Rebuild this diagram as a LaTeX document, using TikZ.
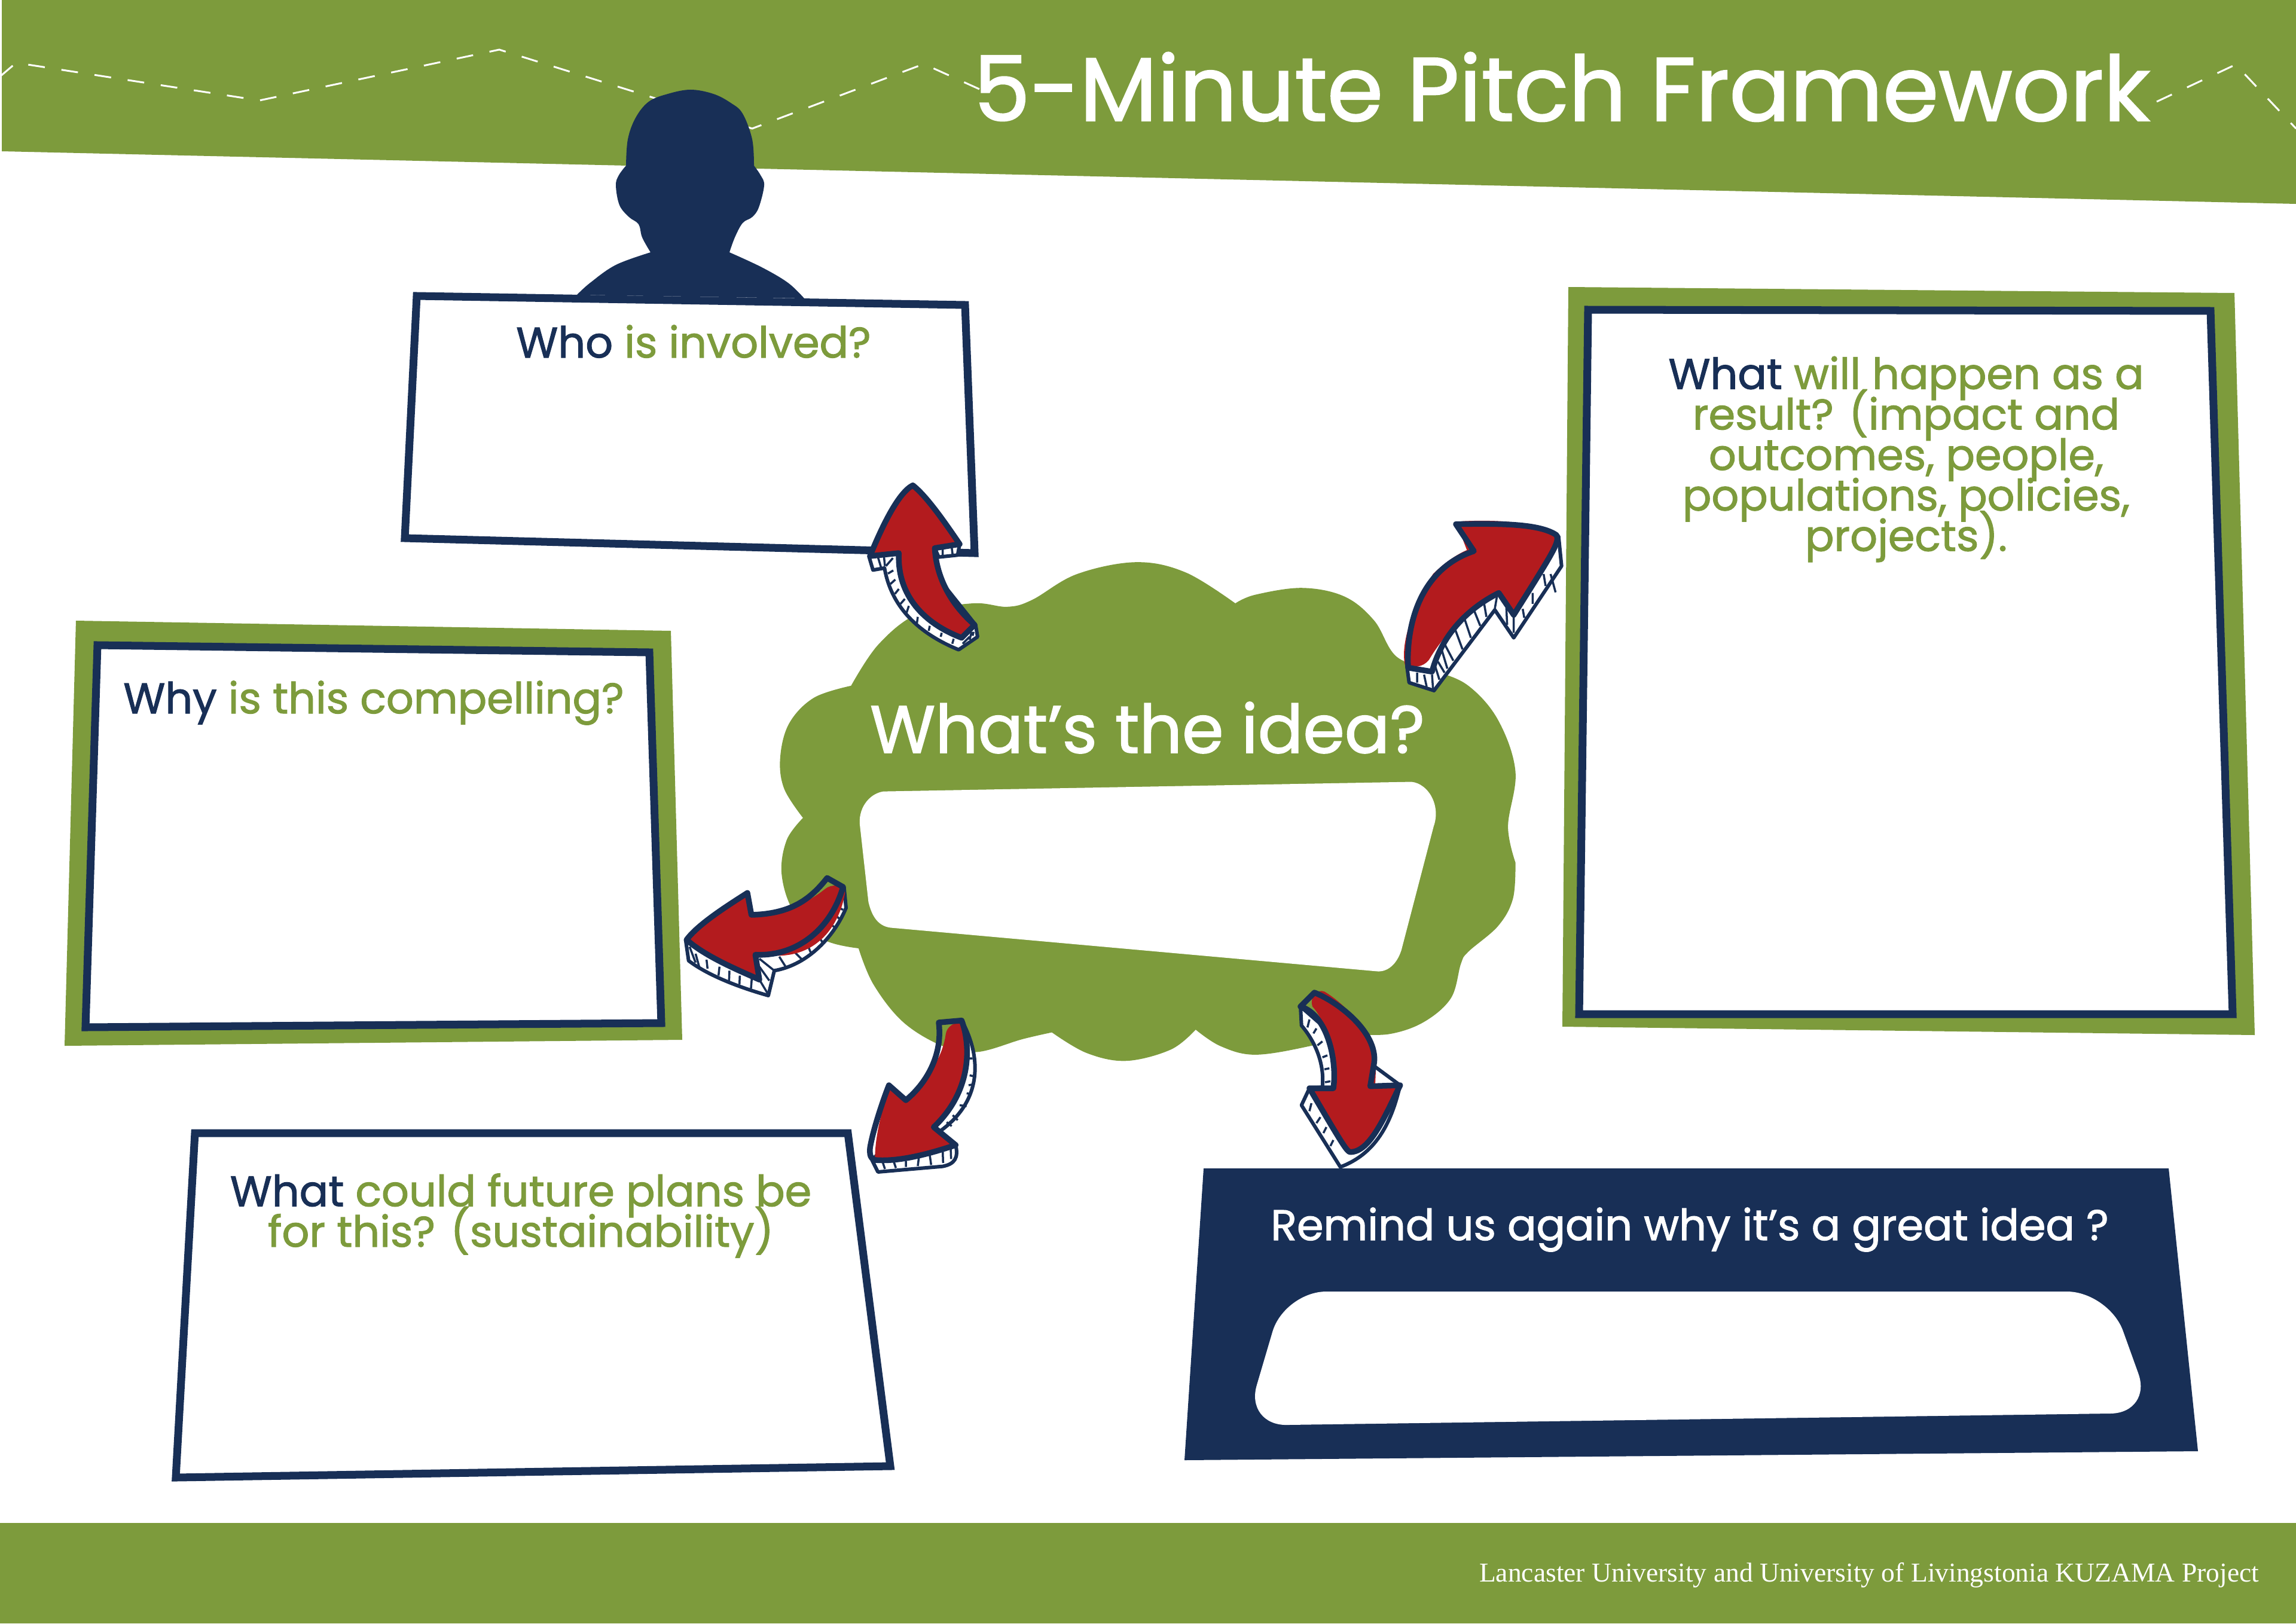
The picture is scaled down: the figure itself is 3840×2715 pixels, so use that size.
\documentclass[tikz,border=0pt]{standalone}
\usepackage{fontspec}
\setmainfont[FakeBold=1.5]{Poppins}
\newfontfamily\footfont{Liberation Serif}
\definecolor{leaf}{HTML}{7D9B3C}
\definecolor{navyink}{HTML}{182F56}
\definecolor{arrowred}{HTML}{B31B1E}
\newcommand{\tightlines}{\lineskiplimit=-100pt\relax}
\begin{document}
\begin{tikzpicture}[
		x=0.01cm, y=-0.01cm,
		askbox/.style={fill=white, draw=navyink, line width=0.13cm, line join=miter},
		frame/.style={fill=leaf},
		asktext/.style={font=\fontsize{20.4}{19.26}\selectfont\tightlines, align=center, inner sep=0pt, text=leaf},
		front/.style={fill=arrowred},
		rim/.style={draw=navyink, line width=0.095cm, line join=round},
		depth/.style={fill=white, draw=navyink, line width=0.06cm, line join=round},
		hatch/.style={draw=navyink, line width=0.035cm}
	]
		\fill[white] (0,0) rectangle (3840,2715);
		\useasboundingbox (0,0) rectangle (3840,2715);
		% bands
		\fill[leaf] (3,0) -- (3840,0) -- (3840,341) -- (3,253) -- cycle;
		\fill[leaf] (0,2547) rectangle (3840,2715);
		\draw[white, line width=0.03cm, dash pattern=on 0.28cm off 0.28cm] (0,128) -- (27,105) -- (434,168) -- (835,83) -- (1258,215) -- (1545,107) -- (1640,150);
		\draw[white, line width=0.03cm, dash pattern=on 0.28cm off 0.28cm] (3607,170) -- (3739,108) -- (3840,215);
		% person
		\fill[navyink] plot[smooth, tension=0.6] coordinates {(965,493) (987,473) (1030,443) (1088,422)}
			-- plot[smooth, tension=0.6] coordinates {(1088,422) (1074,397) (1068,375) (1052,363) (1036,343) (1030,310) (1035,293) (1047,277)}
			-- plot[smooth, tension=0.6] coordinates {(1047,277) (1050,233) (1063,197) (1085,170) (1117,157) (1155,150) (1193,157) (1222,172) (1242,190) (1258,233) (1261,277)}
			-- plot[smooth, tension=0.6] coordinates {(1261,277) (1272,293) (1278,310) (1269,347) (1258,363) (1242,373) (1229,397) (1220,422)}
			-- plot[smooth, tension=0.6] coordinates {(1220,422) (1274,447) (1318,473) (1345,499)} -- cycle;
		% question boxes
		\draw[askbox] (697,495) -- (1614,510) -- (1630,925) -- (677,900) -- cycle;
		\fill[frame] (127,1038) -- (1122,1055) -- (1141,1739) -- (108,1749) -- cycle;
		\draw[askbox] (163,1079) -- (1086,1091) -- (1106,1711) -- (143,1718) -- cycle;
		\fill[frame] (2623,480) -- (3737,490) -- (3771,1731) -- (2613,1717) -- cycle;
		\draw[askbox] (2656,518) -- (3697,520) -- (3734,1696) -- (2641,1696) -- cycle;
		\draw[askbox] (326,1895) -- (1418,1895) -- (1489,2452) -- (294,2471) -- cycle;
		\fill[navyink] (2013,1954) -- (3627,1954) -- (3676,2427) -- (1981,2442) -- cycle;
		\fill[white, rounded corners=0.7cm] (2148,2160) -- (3527,2160) -- (3600,2363) -- (2082,2384) -- cycle;
		% cloud
		\begin{scope}[shift={(1270,900)}, xscale=0.8292, yscale=0.574]
			\fill[leaf] plot[smooth, tension=0.6] coordinates {(960,190) (1000,165) (1095,145) (1180,170) (1240,240) (1285,345) (1360,385) (1430,430) (1490,530) (1525,680) (1510,840) (1525,945)}
				-- plot[smooth, tension=0.6] coordinates {(1525,945) (1520,1050) (1490,1130) (1430,1205) (1415,1240) (1395,1340) (1340,1410) (1270,1445) (1195,1445)}
				-- plot[smooth, tension=0.6] coordinates {(1195,1445) (1110,1480) (1000,1505) (930,1480) (880,1432)}
				-- plot[smooth, tension=0.6] coordinates {(880,1432) (830,1490) (740,1523) (660,1500) (590,1440)}
				-- plot[smooth, tension=0.6] coordinates {(590,1440) (530,1460) (440,1497) (370,1480) (290,1410) (230,1300) (200,1195)}
				-- plot[smooth, tension=0.6] coordinates {(200,1195) (130,1170) (70,1090) (45,980) (55,880) (88,815)}
				-- plot[smooth, tension=0.6] coordinates {(88,815) (50,730) (42,640) (60,540) (110,465) (185,430)}
				-- plot[smooth, tension=0.6] coordinates {(185,430) (240,310) (320,220) (430,190) (500,200) (550,180) (640,105) (760,70) (860,100) (960,190)} -- cycle;
			\fill[white] (250,738) -- (1315,710) .. controls (1350,715) and (1375,780) .. (1360,840)
				-- (1295,1200) .. controls (1285,1245) and (1265,1265) .. (1245,1262)
				-- (265,1135) .. controls (235,1130) and (225,1090) .. (220,1060)
				-- (203,840) .. controls (198,790) and (220,745) .. (250,738) -- cycle;
		\end{scope}
		% arrow to who
		\begin{scope}[shift={(1400,780)}, scale=0.3333]
			\draw[depth] (160,452) -- (180,520) -- (238,510) .. controls (260,640) and (340,810) .. (610,920) -- (705,855) -- (695,795) -- (380,400) -- cycle;
			\draw[depth] (490,410) -- (510,455) -- (605,445) -- (615,390) -- cycle;
			\draw[hatch] (205,455) -- (220,505) (235,450) -- (240,500) (280,460) -- (245,500) (255,538) -- (282,522) (268,590) -- (292,568) (290,640) -- (310,615) (318,690) -- (340,665) (345,745) -- (360,700) (400,790) -- (405,755) (460,825) -- (465,800) (520,855) -- (525,835) (578,890) -- (585,865) (630,890) -- (665,855) (665,870) -- (675,830) (680,850) -- (685,830) (530,410) -- (530,450) (575,405) -- (580,445);
			\path[front, rim] (380,95) .. controls (450,150) and (540,280) .. (615,390) -- (490,410) .. controls (500,570) and (580,700) .. (690,795) -- (625,860) .. controls (440,790) and (300,650) .. (310,435) -- (165,450) .. controls (230,290) and (310,130) .. (380,95) -- cycle;
		\end{scope}
		% arrow to result
		\begin{scope}[shift={(2300,820)}, scale=0.3333]
			\draw[depth] (160,890) -- (170,965) -- (295,1005) -- (600,600) -- (695,740) -- (935,380) -- (920,230) -- (700,400) -- (300,700) -- cycle;
			\draw[hatch] (210,915) -- (210,965) (245,925) -- (258,985) (285,925) -- (290,995) (300,880) -- (322,950) (315,860) -- (348,915) (335,805) -- (362,895) (350,775) -- (392,855) (400,695) -- (438,798) (445,635) -- (480,740) (495,600) -- (527,680) (545,560) -- (558,635) (612,525) -- (600,595) (658,590) -- (662,675) (695,635) -- (695,715) (740,595) -- (748,640) (790,515) -- (790,570) (845,420) -- (855,480) (880,420) -- (905,512);
			\fill[white] (165,890) -- (285,910) .. controls (335,780) and (420,640) .. (620,515) -- (800,250) -- (300,400) -- cycle;
			\fill[front] (150,880) .. controls (125,780) and (180,600) .. (290,420) .. controls (340,370) and (410,320) .. (460,300) -- (410,170) -- (440,155) .. controls (640,145) and (830,165) .. (915,225) -- (920,260) -- (700,620) -- (625,520) .. controls (480,590) and (360,700) .. (270,850) .. controls (240,890) and (190,890) .. (150,880) -- cycle;
			\draw[rim] (165,890) .. controls (155,700) and (210,400) .. (495,305) -- (405,170) .. controls (650,165) and (830,170) .. (910,225) .. controls (925,260) and (900,300) .. (695,625) -- (620,515) .. controls (450,600) and (330,740) .. (285,910) -- cycle;
		\end{scope}
		% arrow to why
		\begin{scope}[shift={(1120,1440)}, scale=0.3333]
			\draw[depth] (80,395) -- (95,500) .. controls (200,580) and (370,640) .. (495,675) -- (525,550) .. controls (700,520) and (830,370) .. (885,235) -- (875,130) -- (700,320) -- (400,400) -- cycle;
			\draw[hatch] (100,430) -- (130,510) (130,465) -- (148,530) (185,495) -- (190,540) (250,530) -- (245,575) (300,550) -- (298,600) (352,575) -- (350,620) (412,590) -- (408,640) (450,595) -- (495,670) (450,530) -- (500,600) (450,490) -- (525,550) (550,480) -- (585,535) (620,450) -- (665,495) (690,415) -- (708,460) (745,375) -- (765,405) (800,310) -- (830,335) (830,270) -- (852,290) (852,235) -- (870,245);
			\fill[front] (100,400) .. controls (150,300) and (280,230) .. (385,165) -- (410,270) .. controls (560,265) and (680,220) .. (780,140) .. controls (810,115) and (870,115) .. (880,160) .. controls (850,330) and (740,470) .. (550,475) -- (430,470) -- (450,595) .. controls (350,550) and (130,480) .. (100,400) -- cycle;
			\draw[rim] (790,85) .. controls (700,200) and (600,265) .. (410,270) -- (390,160) .. controls (280,230) and (140,320) .. (85,395) .. controls (180,480) and (350,550) .. (450,595) -- (430,470) .. controls (640,480) and (810,340) .. (870,130) -- cycle;
		\end{scope}
		% arrow to plans
		\begin{scope}[shift={(1420,1680)}, scale=0.3333]
			\draw[depth] (565,80) .. controls (660,250) and (680,480) .. (450,640) -- (535,705) .. controls (550,770) and (530,800) .. (470,812) -- (145,840) -- (115,780) -- (400,500) -- cycle;
			\draw[hatch] (170,795) -- (180,825) (225,790) -- (235,820) (285,785) -- (285,815) (350,770) -- (345,810) (405,755) -- (412,805) (470,735) -- (472,795) (510,720) -- (512,775) (620,270) -- (600,270) (625,360) -- (605,355) (625,400) -- (600,405) (610,450) -- (590,445) (590,510) -- (555,505) (545,580) -- (520,555) (515,610) -- (490,590);
			\fill[front] (485,150) .. controls (490,110) and (530,85) .. (570,90) .. controls (610,160) and (620,400) .. (430,615) -- (520,705) .. controls (400,750) and (250,780) .. (130,775) .. controls (130,650) and (170,520) .. (200,410) -- (285,480) .. controls (400,370) and (470,260) .. (485,150) -- cycle;
			\draw[rim] (450,90) -- (565,80) .. controls (610,200) and (620,430) .. (425,615) -- (535,705) .. controls (400,750) and (250,790) .. (130,780) .. controls (100,770) and (105,740) .. (105,720) .. controls (120,630) and (170,480) .. (200,405) -- (285,480) .. controls (400,385) and (470,240) .. (450,90) -- cycle;
		\end{scope}
		% arrow to remind
		\begin{scope}[shift={(2140,1640)}, scale=0.3333]
			\draw[depth] (105,130) -- (110,225) .. controls (190,320) and (225,430) .. (215,535) -- (150,540) -- (110,625) -- (305,935) .. controls (480,870) and (560,720) .. (605,525) -- (300,300) -- cycle;
			\draw[hatch] (150,195) -- (140,235) (185,240) -- (170,265) (215,305) -- (190,325) (240,375) -- (215,385) (250,440) -- (225,445) (255,505) -- (228,510) (160,615) -- (150,655) (205,685) -- (185,715) (235,735) -- (220,765) (270,800) -- (255,830) (445,800) -- (470,760) (490,755) -- (520,680);
			\fill[front] (165,130) .. controls (150,80) and (190,40) .. (225,55) .. controls (320,110) and (480,270) .. (485,400) -- (480,525) -- (600,525) .. controls (540,650) and (450,860) .. (350,860) -- (150,540) -- (270,540) .. controls (290,380) and (230,200) .. (165,130) -- cycle;
			\draw[rim] (105,130) -- (175,60) .. controls (300,110) and (490,260) .. (475,410) -- (455,530) -- (605,525) .. controls (520,700) and (450,860) .. (355,860) .. controls (340,860) and (320,830) .. (150,540) -- (270,540) .. controls (290,400) and (240,170) .. (105,130) -- cycle;
		\end{scope}
		% texts
		\node[font=\fontsize{42.8}{43}\selectfont, text=white, anchor=base, inner sep=0pt] (title) at (2612,202) {5-Minute Pitch Framework};
		\node[asktext, anchor=base] (who) at (1160,598) {\textcolor{navyink}{Who} is involved?};
		\node[asktext, anchor=base] (why) at (625,1193) {\textcolor{navyink}{Why} is this compelling?};
		\node[asktext] (result) at (3188,768) {\textcolor{navyink}{What} will happen as a\\result? (impact and\\outcomes, people,\\populations, policies,\\projects).};
		\node[asktext] (plans) at (871,2033) {\textcolor{navyink}{What} could future plans be\\for this? (sustainability)};
		\node[asktext, anchor=base, text=white] (remind) at (2826,2074) {Remind us again why it’s a great idea ?};
		\node[font=\fontsize{31.8}{32}\selectfont, text=white, anchor=base, inner sep=0pt] (idea) at (1919,1259) {What’s the idea?};
		\node[font=\footfont\fontsize{12.95}{13}\selectfont, text=white, anchor=base, inner sep=0pt] (credit) at (3126,2645) {Lancaster University and University of Livingstonia KUZAMA Project};
	\end{tikzpicture}
\end{document}
